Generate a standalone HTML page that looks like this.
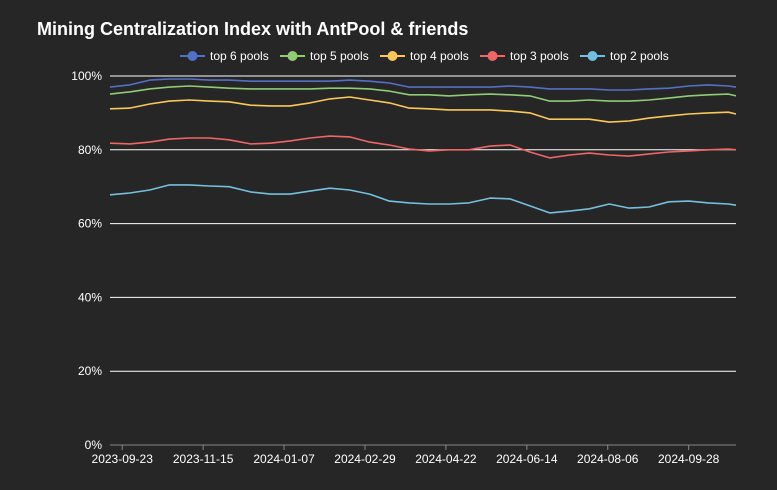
<!DOCTYPE html>
<html><head><meta charset="utf-8"><style>
body{margin:0;background:#262626;}
svg{display:block;font-family:"Liberation Sans",sans-serif;}
</style></head><body>
<svg id="c" width="777" height="490">
<rect width="777" height="490" fill="#262626"/>
<text x="37" y="35" fill="#fff" font-size="18" font-weight="bold">Mining Centralization Index with AntPool &amp; friends</text>
<g id="grid"></g><g id="axes"></g><g id="legend"></g><g id="series"></g>
</svg>
<script>
const seriesNames=["top 6 pools","top 5 pools","top 4 pools","top 3 pools","top 2 pools"];
const seriesColors=["#5470c6","#91cc75","#fac858","#ee6666","#73c0de"];
const xTickLabels=["2023-09-23","2023-11-15","2024-01-07","2024-02-29","2024-04-22","2024-06-14","2024-08-06","2024-09-28"];
const yTickValues=[0,20,40,60,80,100];
const dayOffsets=[0,13,26,39,52,65,78,92,105,118,131,144,157,170,183,196,209,222,235,249,262,275,288,301,314,327,340,353,366,379,392,405,410];
const top6=[97.0,97.6,98.9,99.2,99.2,98.9,98.9,98.6,98.6,98.6,98.6,98.6,98.9,98.6,98.1,97.0,97.0,97.0,97.0,97.0,97.3,97.0,96.5,96.5,96.5,96.2,96.2,96.5,96.7,97.3,97.6,97.3,97.0];
const top5=[95.1,95.7,96.5,97.0,97.3,97.0,96.7,96.5,96.5,96.5,96.5,96.7,96.7,96.5,95.9,94.9,94.9,94.6,94.9,95.1,94.9,94.6,93.2,93.2,93.5,93.2,93.2,93.5,94.0,94.6,94.9,95.1,94.6];
const top4=[91.1,91.3,92.4,93.2,93.5,93.2,93.0,92.1,91.9,91.9,92.7,93.8,94.3,93.5,92.7,91.3,91.1,90.8,90.8,90.8,90.5,90.0,88.3,88.3,88.3,87.5,87.8,88.6,89.2,89.7,90.0,90.2,89.7];
const top3=[81.8,81.6,82.1,82.9,83.2,83.2,82.7,81.6,81.8,82.4,83.2,83.7,83.5,82.1,81.3,80.2,79.7,80.0,80.0,81.0,81.3,79.4,77.8,78.6,79.1,78.6,78.3,78.9,79.4,79.7,80.0,80.2,80.0];
const top2=[67.8,68.3,69.1,70.5,70.5,70.2,70.0,68.6,68.0,68.0,68.8,69.6,69.1,68.0,66.1,65.6,65.3,65.3,65.6,66.9,66.7,64.8,62.9,63.4,64.0,65.3,64.2,64.5,65.9,66.1,65.6,65.3,65.0];
const allSeries=[top6,top5,top4,top3,top2];
const NS="http://www.w3.org/2000/svg";
const X0=110,X1=736,Y0=445,Y1=76,DAYMAX=410,TICK0=8,TICKSTEP=53;
function xScale(d){return X0+(X1-X0)*d/DAYMAX;}
function yScale(v){return Y0-(Y0-Y1)*v/100;}
function mk(tag,attrs,parent){const e=document.createElementNS(NS,tag);for(const k in attrs)e.setAttribute(k,attrs[k]);parent.appendChild(e);return e;}
const grid=document.getElementById('grid'),axes=document.getElementById('axes'),legend=document.getElementById('legend'),ser=document.getElementById('series');
yTickValues.forEach(v=>{
  const y=yScale(v);
  const l=mk('line',{x1:X0,x2:X1,y1:y,y2:y,stroke:v===0?'#888':'#fff','stroke-width':1},grid);
  
  
  const t=mk('text',{x:102,y:y+4,fill:'#fff','font-size':12,'text-anchor':'end'},axes);
  t.textContent=v+'%';
  
  
});
xTickLabels.forEach((s,i)=>{
  const x=xScale(TICK0+i*TICKSTEP);
  const tk=mk('line',{x1:x,x2:x,y1:Y0,y2:Y0+5,stroke:'#888'},axes);
  
  
  const t=mk('text',{x:x,y:Y0+18,fill:'#fff','font-size':12,'text-anchor':'middle'},axes);
  t.textContent=s;
  
  
});
allSeries.forEach((vals,si)=>{
  const pts=vals.map((v,i)=>xScale(dayOffsets[i]).toFixed(1)+','+yScale(v).toFixed(1)).join(' ');
  const p=mk('polyline',{points:pts,fill:'none',stroke:seriesColors[si],'stroke-width':1.6,'stroke-linejoin':'round'},ser);
  
  
});
const legX=[180,280,380,480,580];
seriesNames.forEach((n,i)=>{
  const g=mk('g',{},legend);
  
  
  const x=legX[i];
  mk('line',{x1:x,x2:x+25,y1:56,y2:56,stroke:seriesColors[i],'stroke-width':2},g);
  mk('circle',{cx:x+12.5,cy:56,r:5,fill:seriesColors[i]},g);
  const t=mk('text',{x:x+30,y:60,fill:'#fff','font-size':12},g);
  t.textContent=n;
});
</script>
</body></html>
